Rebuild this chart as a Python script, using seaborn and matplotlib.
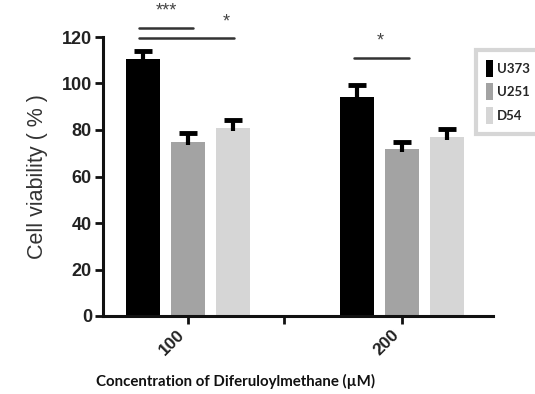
import numpy as np
import pandas as pd
import matplotlib
matplotlib.use("Agg")
import matplotlib.pyplot as plt
import seaborn as sns
from matplotlib.patches import Patch

concentrations = ["100", "200"]
cell_lines = ["U373", "U251", "D54"]
u373 = [110.5, 94.0]
u251 = [75.0, 72.0]
d54 = [81.0, 77.0]
u373_err = [3.5, 5.5]
u251_err = [3.5, 3.0]
d54_err = [3.5, 3.5]
colors = ["#000000", "#a3a3a3", "#d6d6d6"]

rows = []
for line, vals, errs in [("U373", u373, u373_err), ("U251", u251, u251_err), ("D54", d54, d54_err)]:
    for c, v, e in zip(concentrations, vals, errs):
        rows.append({"conc": c, "line": line, "value": v, "err": e})
df = pd.DataFrame(rows)

sns.set_style("white")
plt.rcParams["font.family"] = ["Liberation Sans", "DejaVu Sans"]

fig = plt.figure(figsize=(5.35, 3.94), dpi=100)
ax = fig.add_axes([103/535, 78/394, 390/535, 279/394])

sns.barplot(data=df, x="conc", y="value", hue="line", order=concentrations,
            hue_order=cell_lines, palette=colors, width=0.63, gap=0.25,
            errorbar=None, ax=ax, legend=False, saturation=1, zorder=2)
bar_containers = list(ax.containers)
for cont in bar_containers:
    for p in cont:
        p.set_edgecolor("none")

# error bars (upper only)
for cont, line in zip(bar_containers, cell_lines):
    sub = df[df["line"] == line].set_index("conc").loc[concentrations]
    xs = [p.get_x() + p.get_width()/2 for p in cont]
    eb = ax.errorbar(xs, sub["value"], yerr=[np.full(len(xs), 1.5), sub["err"]],
                     fmt="none", ecolor="black", elinewidth=3, capsize=6.5,
                     capthick=3.5, zorder=3)
    eb[1][0].set_visible(False)

ax.set_xlim(-0.396, 1.424)
ax.set_ylim(0, 120)
ax.set_yticks([0, 20, 40, 60, 80, 100, 120])
ax.set_xticks([0, 0.448, 1])
ax.set_xticklabels(["100", "", "200"], rotation=45, ha="right",
                   rotation_mode="default", fontweight="bold",
                   fontsize=12.5, color="#222222")
for lab in ax.get_yticklabels():
    lab.set_fontweight("bold")
    lab.set_fontsize(13)
    lab.set_color("#222222")
ax.tick_params(axis="both", direction="out", length=6, width=2, color="#111111",
               left=True, bottom=True, pad=2)
sns.despine(ax=ax)
for s in ["left", "bottom"]:
    ax.spines[s].set_linewidth(2.2)
    ax.spines[s].set_color("#111111")

ax.set_ylabel("Cell viability ( % )", fontsize=15.5, color="#333333", labelpad=10)
ax.set_xlabel("")
fig.text(236/535, 1 - 381/394, "Concentration of Diferuloylmethane (\u00b5M)",
         ha="center", va="center", fontsize=10.8, fontweight="bold",
         family=["Lato", "DejaVu Sans"], color="#111111")

# significance annotations
def bracket(x0, x1, y, text, tx):
    ax.plot([x0, x1], [y, y], color="#333333", lw=1.8, clip_on=False)
    ax.text(tx, y + 3.5, text, ha="center", va="bottom", fontsize=13, color="#444444",
            clip_on=False)

bracket(-0.228, 0.025, 124, "***", -0.10)
bracket(-0.228, 0.215, 119.5, "*", 0.18)
bracket(0.775, 1.03, 111, "*", 0.90)

# legend
handles = [Patch(facecolor=c, edgecolor="none") for c in colors]
leg = fig.legend(handles, cell_lines, loc="upper left",
                 bbox_to_anchor=(476/535, 1 - 50/394), frameon=True,
                 fancybox=False, handlelength=0.55, handleheight=1.6,
                 handletextpad=0.3, labelspacing=0.5, borderpad=0.75,
                 borderaxespad=0,
                 prop={"family": ["Lato", "DejaVu Sans"],
                       "weight": "bold", "size": 9.5})
leg.get_frame().set_edgecolor("#cccccc")
leg.get_frame().set_linewidth(3)

fig.savefig("out.png", dpi=100)
